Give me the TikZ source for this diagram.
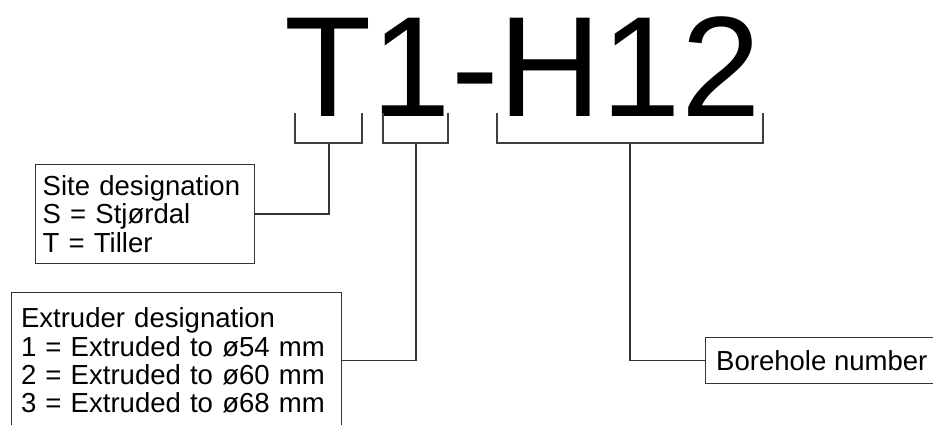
\documentclass[tikz,border=0pt]{standalone}
\usepackage{fontspec}
\setmainfont{Liberation Sans}
\usetikzlibrary{positioning}

\begin{document}
\begin{tikzpicture}[
  x=0.03cm, y=-0.03cm,
  font=\fontsize{23.5}{24.1}\selectfont,
  code/.style={font=\fontsize{122}{122}\selectfont, inner sep=0pt, anchor=base west},
  infobox/.style={rectangle, draw=black!80, line width=1.1pt, fill=white, align=left, inner ysep=0pt, anchor=north west},
  bracket/.style={draw=black!75, line width=1.1pt},
  leader/.style={draw=black!80, line width=1.1pt}
]
\useasboundingbox (0,0) rectangle (933,425);

% sample code
\node[code] (code) at (284,117) {T1-H12};

% brackets under the parts of the code
\draw[bracket] (295,113) -- (295,143) -- (362,143) -- (362,113);
\draw[bracket] (383,113) -- (383,143) -- (448,143) -- (448,113);
\draw[bracket] (497,113) -- (497,143) -- (763,143) -- (763,113);
\coordinate (siteb) at (329,143);
\coordinate (extb) at (416,143);
\coordinate (holeb) at (630,143);

% explanation boxes
\node[infobox, inner xsep=6pt, text width=175pt, minimum height=84.2pt] (site) at (35,164)
  {Site designation\\S = Stjørdal\\T = Tiller};
\node[infobox, inner xsep=8pt, text width=265.5pt, minimum height=115.7pt] (extruder) at (11,292)
  {Extruder designation\\1 = Extruded to ø54 mm\\2 = Extruded to ø60 mm\\3 = Extruded to ø68 mm};
\node[infobox, inner xsep=9pt, minimum height=39.1pt] (borehole) at (705,337)
  {Borehole number};

% leaders
\draw[leader] (siteb) |- (site);
\draw[leader] (extb) |- (extruder);
\draw[leader] (holeb) |- (borehole);
\end{tikzpicture}
\end{document}
